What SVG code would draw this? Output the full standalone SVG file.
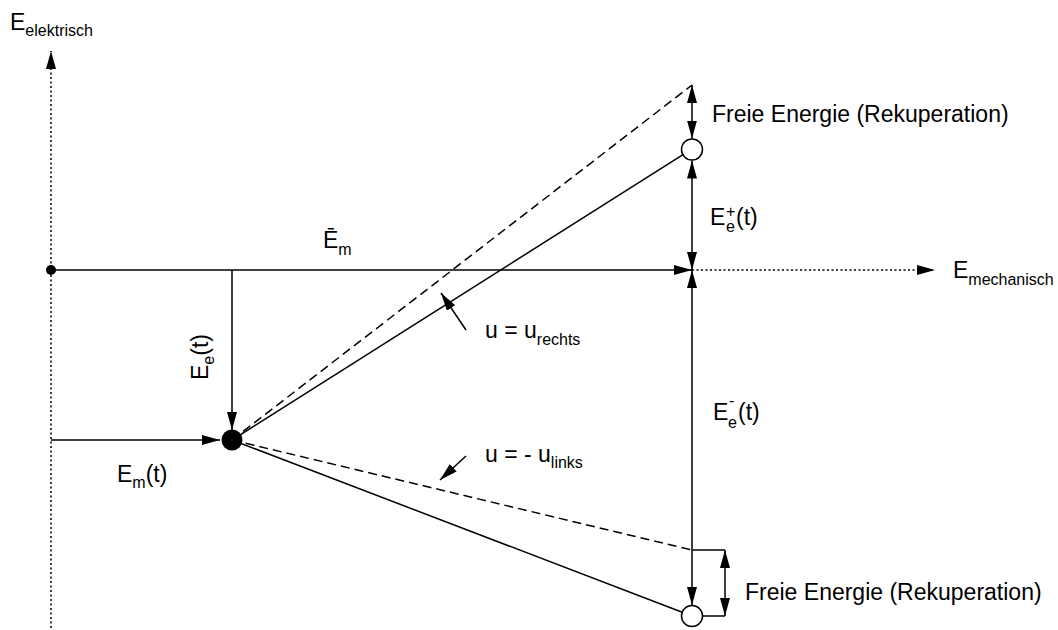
<svg xmlns="http://www.w3.org/2000/svg" width="1058" height="630" viewBox="0 0 1058 630">
<defs>
<marker id="ah" markerUnits="userSpaceOnUse" markerWidth="18" markerHeight="10" refX="18" refY="5" orient="auto-start-reverse">
<path d="M0,0 L18,5 L0,10 z" fill="#000"/>
</marker>
<style>
.ln{stroke:#000;stroke-width:1.5;fill:none}
.dot{stroke:#000;stroke-width:1.5;fill:none;stroke-dasharray:2,2.5}
.dash{stroke:#000;stroke-width:1.5;fill:none;stroke-dasharray:9,5}
.arr{marker-end:url(#ah)}
.arr2{marker-start:url(#ah);marker-end:url(#ah)}
text{font-family:"Liberation Sans",Arial,sans-serif;font-size:23px;fill:#000}
.s{font-size:16px}
.open{fill:#fff;stroke:#000;stroke-width:1.5}
</style>
</defs>
<rect width="1058" height="630" fill="#fff"/>

<g id="connectors">
<line class="dot arr" x1="51" y1="628" x2="51" y2="51"/>
<line class="ln arr" x1="51" y1="270" x2="692" y2="270"/>
<line class="dot arr" x1="692" y1="270" x2="935" y2="270"/>
<line class="ln arr" x1="232" y1="270" x2="232" y2="430"/>
<line class="ln arr" x1="51" y1="440" x2="220" y2="440"/>
<line class="ln" x1="232" y1="440" x2="683" y2="154.6"/>
<line class="dash" x1="232" y1="440" x2="692" y2="85"/>
<line class="dash" x1="232" y1="440" x2="692" y2="550"/>
<line class="ln" x1="232" y1="440" x2="682.2" y2="612.2"/>
<line class="ln arr2" x1="692" y1="85" x2="692" y2="138.5"/>
<line class="ln arr2" x1="692" y1="160.5" x2="692" y2="270"/>
<line class="ln arr2" x1="692" y1="270" x2="692" y2="605"/>
<line class="ln" x1="692" y1="550" x2="725" y2="550"/>
<line class="ln" x1="702.5" y1="616" x2="725" y2="616"/>
<line class="ln arr2" x1="725" y1="550" x2="725" y2="616"/>
<line class="ln arr" x1="466" y1="330" x2="441" y2="293"/>
<line class="ln arr" x1="466" y1="456" x2="440" y2="480"/>
</g>

<g id="origin"><circle cx="51" cy="270" r="5" fill="#000"/></g>
<g id="operating-point"><circle cx="232" cy="440" r="10.5" fill="#000"/></g>
<g id="upper-point"><circle class="open" cx="692" cy="149.5" r="10.5"/></g>
<g id="lower-point"><circle class="open" cx="692" cy="616" r="10.5"/></g>

<g id="label-e-elektrisch"><text x="10" y="30">E<tspan class="s" dy="6">elektrisch</tspan></text></g>
<g id="label-e-mechanisch"><text x="953" y="278">E<tspan class="s" dy="7">mechanisch</tspan></text></g>
<g id="label-em-bar"><text x="323" y="248">Ē<tspan class="s" dy="7">m</tspan></text></g>
<g id="label-ee"><text transform="translate(208,380) rotate(-90)">E<tspan class="s" dy="6">e</tspan><tspan dy="-6">(t)</tspan></text></g>
<g id="label-emt"><text x="117" y="482">E<tspan class="s" dy="6">m</tspan><tspan dy="-6">(t)</tspan></text></g>
<g id="label-ee-plus"><text x="710" y="225">E<tspan class="s" x="726" y="217">+</tspan><tspan class="s" x="726" y="232">e</tspan><tspan x="736" y="225">(t)</tspan></text></g>
<g id="label-ee-minus"><text x="713" y="420">E<tspan class="s" x="729" y="406">-</tspan><tspan class="s" x="728" y="428">e</tspan><tspan x="738" y="420">(t)</tspan></text></g>
<g id="label-u-rechts"><text x="485" y="338">u = u<tspan class="s" dy="7">rechts</tspan></text></g>
<g id="label-u-links"><text x="485" y="462">u = - u<tspan class="s" dy="6">links</tspan></text></g>
<g id="label-free-top"><text x="712" y="122">Freie Energie (Rekuperation)</text></g>
<g id="label-free-bottom"><text x="745" y="600">Freie Energie (Rekuperation)</text></g>
</svg>
